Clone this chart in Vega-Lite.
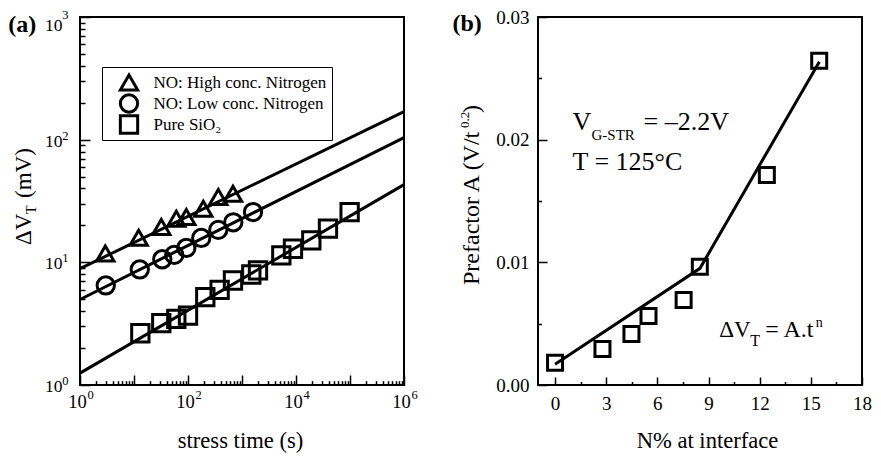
{
  "$schema": "https://vega.github.io/schema/vega-lite/v6.json",
  "background": "white",
  "padding": {"left": 7, "top": 7, "right": 5, "bottom": 5},
  "spacing": 32,
  "datasets": {
    "pointsA": [
      {"series": "NO: High conc. Nitrogen", "t": 2.94, "v": 11.8},
      {"series": "NO: High conc. Nitrogen", "t": 12.2, "v": 15.9},
      {"series": "NO: High conc. Nitrogen", "t": 32, "v": 19.4},
      {"series": "NO: High conc. Nitrogen", "t": 60.7, "v": 22.7},
      {"series": "NO: High conc. Nitrogen", "t": 93, "v": 23.4},
      {"series": "NO: High conc. Nitrogen", "t": 192, "v": 27.4},
      {"series": "NO: High conc. Nitrogen", "t": 364, "v": 34.1},
      {"series": "NO: High conc. Nitrogen", "t": 681, "v": 36.3},
      {"series": "NO: Low conc. Nitrogen", "t": 3.0, "v": 6.48},
      {"series": "NO: Low conc. Nitrogen", "t": 12.8, "v": 8.75},
      {"series": "NO: Low conc. Nitrogen", "t": 33.4, "v": 10.6},
      {"series": "NO: Low conc. Nitrogen", "t": 55.7, "v": 11.5},
      {"series": "NO: Low conc. Nitrogen", "t": 93, "v": 13.1},
      {"series": "NO: Low conc. Nitrogen", "t": 176, "v": 15.8},
      {"series": "NO: Low conc. Nitrogen", "t": 364, "v": 18.4},
      {"series": "NO: Low conc. Nitrogen", "t": 690, "v": 21.2},
      {"series": "NO: Low conc. Nitrogen", "t": 1600, "v": 25.7},
      {"series": "Pure SiO₂", "t": 13.1, "v": 2.64},
      {"series": "Pure SiO₂", "t": 32, "v": 3.19},
      {"series": "Pure SiO₂", "t": 60.7, "v": 3.46},
      {"series": "Pure SiO₂", "t": 100, "v": 3.68},
      {"series": "Pure SiO₂", "t": 209, "v": 5.2},
      {"series": "Pure SiO₂", "t": 385, "v": 5.97},
      {"series": "Pure SiO₂", "t": 681, "v": 7.11},
      {"series": "Pure SiO₂", "t": 1487, "v": 7.96},
      {"series": "Pure SiO₂", "t": 1978, "v": 8.59},
      {"series": "Pure SiO₂", "t": 5350, "v": 11.4},
      {"series": "Pure SiO₂", "t": 8790, "v": 12.9},
      {"series": "Pure SiO₂", "t": 19200, "v": 15.1},
      {"series": "Pure SiO₂", "t": 39100, "v": 18.8},
      {"series": "Pure SiO₂", "t": 98400, "v": 25.7}
    ],
    "fitA": [
      {"series": "NO: High conc. Nitrogen", "t": 1, "v": 8.87},
      {"series": "NO: High conc. Nitrogen", "t": 1000000, "v": 169},
      {"series": "NO: Low conc. Nitrogen", "t": 1, "v": 4.98},
      {"series": "NO: Low conc. Nitrogen", "t": 1000000, "v": 104},
      {"series": "Pure SiO₂", "t": 1, "v": 1.25},
      {"series": "Pure SiO₂", "t": 1000000, "v": 43}
    ],
    "annA": [
      {"key": "panel", "text": "(a)", "t": 0.047, "v": 755},
      {"key": "yt1", "text": "ΔV", "t": 0.1253, "v": 13.85},
      {"key": "yt2", "text": "T", "t": 0.1253, "v": 13.85},
      {"key": "yt3", "text": "(mV)", "t": 0.1253, "v": 13.85}
    ],
    "pointsB": [
      {"n": 0, "a": 0.00182},
      {"n": 2.78, "a": 0.00293},
      {"n": 4.48, "a": 0.00416},
      {"n": 5.48, "a": 0.00562},
      {"n": 7.54, "a": 0.00693},
      {"n": 8.49, "a": 0.00964},
      {"n": 12.42, "a": 0.01712},
      {"n": 15.49, "a": 0.02644}
    ],
    "fitB": [
      {"n": 0, "a": 0.00169},
      {"n": 8.5, "a": 0.00951},
      {"n": 15.5, "a": 0.02636}
    ],
    "annB": [
      {"key": "panel", "text": "(b)", "n": -6.02, "a": 0.02886},
      {"key": "yt1", "text": "Prefactor A (V/t", "n": -4.478, "a": 0.008152},
      {"key": "yt2", "text": "0.2", "n": -4.478, "a": 0.008152},
      {"key": "yt3", "text": ")", "n": -4.478, "a": 0.008152},
      {"key": "vg1", "text": "V", "n": 1.021, "a": 0.020788},
      {"key": "vg2", "text": "G-STR", "n": 1.021, "a": 0.020788},
      {"key": "vg3", "text": "= –2.2V", "n": 1.021, "a": 0.020788},
      {"key": "temp", "text": "T = 125°C", "n": 1.021, "a": 0.017527},
      {"key": "eq1", "text": "ΔV", "n": 9.624, "a": 0.003937},
      {"key": "eq2", "text": "T", "n": 9.624, "a": 0.003937},
      {"key": "eq3", "text": "= A.t", "n": 9.624, "a": 0.003937},
      {"key": "eq4", "text": "n", "n": 9.624, "a": 0.003937}
    ]
  },
  "hconcat": [
    {
      "width": 324,
      "height": 368,
      "resolve": {"axis": {"x": "independent", "y": "independent"}},
      "layer": [
        {
          "data": {"name": "pointsA"},
          "mark": {"type": "point", "filled": false, "strokeWidth": 3, "size": 300, "color": "black", "opacity": 1},
          "encoding": {
            "x": {
              "field": "t", "type": "quantitative",
              "scale": {"type": "log", "domain": [1, 1000000], "nice": false},
              "axis": {
                "orient": "bottom",
                "title": "stress time (s)",
                "titleFontSize": 22.6,
                "titleX": 160, "titleY": 62, "titleAlign": "center", "titleBaseline": "alphabetic",
                "values": [1, 100, 10000, 1000000],
                "labelExpr": "'10'",
                "ticks": false, "tickSize": 0,
                "labelPadding": 22, "labelBaseline": "alphabetic", "labelOffset": -3, "labelFontSize": 18.5
              }
            },
            "y": {
              "field": "v", "type": "quantitative",
              "scale": {"type": "log", "domain": [1, 1000], "nice": false},
              "axis": {
                "orient": "left",
                "title": null,
                "values": [1, 10, 100, 1000],
                "labelExpr": "'10'",
                "ticks": false, "tickSize": 0,
                "labelPadding": 18, "labelBaseline": "middle", "labelFontSize": 17.5,
                "labelOffset": {"condition": {"test": "datum.value > 999", "value": 8}, "value": 1.5}
              }
            },
            "shape": {
              "field": "series", "type": "nominal",
              "scale": {"domain": ["NO: High conc. Nitrogen", "NO: Low conc. Nitrogen", "Pure SiO₂"], "range": ["triangle-up", "circle", "square"]},
              "legend": {
                "orient": "none", "legendX": 22, "legendY": 50, "title": null,
                "strokeColor": "black", "fillColor": "white", "padding": 5,
                "labelFont": "Liberation Serif", "labelFontSize": 17, "labelColor": "black", "labelLimit": 400,
                "symbolStrokeWidth": 3, "symbolStrokeColor": "black", "symbolFillColor": "transparent", "symbolSize": 300,
                "symbolOffset": 11.5, "labelOffset": 14, "rowPadding": 0, "clipHeight": 21
              }
            }
          }
        },
        {
          "data": {"name": "fitA"},
          "mark": {"type": "line", "color": "black", "strokeWidth": 3},
          "encoding": {
            "x": {
              "field": "t", "type": "quantitative",
              "scale": {"type": "log", "domain": [1, 1000000], "nice": false},
              "axis": {
                "orient": "bottom", "title": null,
                "values": [1, 100, 10000, 1000000],
                "labelExpr": "format(round(log(datum.value)/LN10), 'd')",
                "ticks": false, "tickSize": 0,
                "labelPadding": 13, "labelBaseline": "alphabetic", "labelAlign": "left", "labelOffset": 7, "labelFontSize": 12.5
              }
            },
            "y": {
              "field": "v", "type": "quantitative",
              "scale": {"type": "log", "domain": [1, 1000], "nice": false},
              "axis": {
                "orient": "left", "title": null,
                "values": [1, 10, 100, 1000],
                "labelExpr": "format(round(log(datum.value)/LN10), 'd')",
                "ticks": false, "tickSize": 0,
                "labelPadding": 12, "labelBaseline": "middle", "labelAlign": "right", "labelFontSize": 12.5,
                "labelOffset": {"condition": {"test": "datum.value > 999", "value": -3}, "value": -4.5}
              }
            },
            "detail": {"field": "series"}
          }
        },
        {
          "data": {"name": "annA"},
          "transform": [{"filter": "datum.key == 'panel'"}],
          "mark": {"type": "text", "align": "left", "baseline": "alphabetic", "fontSize": 24, "fontWeight": "bold", "font": "Liberation Serif", "color": "black"},
          "encoding": {
            "x": {
              "field": "t", "type": "quantitative", "scale": {"type": "log", "domain": [1, 1000000], "nice": false},
              "axis": {"orient": "bottom", "title": null, "values": [1, 10, 100, 1000, 10000, 100000, 1000000], "labels": false, "tickSize": -10}
            },
            "y": {
              "field": "v", "type": "quantitative", "scale": {"type": "log", "domain": [1, 1000], "nice": false},
              "axis": {"orient": "left", "title": null, "values": [1, 10, 100, 1000], "labels": false, "tickSize": -10}
            },
            "text": {"field": "text"}
          }
        },
        {
          "data": {"name": "annA"},
          "transform": [{"filter": "datum.key == 'yt1'"}],
          "mark": {"type": "text", "align": "left", "baseline": "alphabetic", "angle": 270, "fontSize": 23, "font": "Liberation Serif", "color": "black"},
          "encoding": {
            "x": {
              "field": "t", "type": "quantitative", "scale": {"type": "log", "domain": [1, 1000000], "nice": false},
              "axis": {"orient": "bottom", "title": null, "values": [2,3,4,5,6,7,8,9,20,30,40,50,60,70,80,90,200,300,400,500,600,700,800,900,2000,3000,4000,5000,6000,7000,8000,9000,20000,30000,40000,50000,60000,70000,80000,90000,200000,300000,400000,500000,600000,700000,800000,900000], "labels": false, "tickSize": -4.3}
            },
            "y": {
              "field": "v", "type": "quantitative", "scale": {"type": "log", "domain": [1, 1000], "nice": false},
              "axis": {"orient": "left", "title": null, "values": [2,3,4,5,6,7,8,9,20,30,40,50,60,70,80,90,200,300,400,500,600,700,800,900], "labels": false, "tickSize": -5}
            },
            "text": {"field": "text"}
          }
        },
        {
          "data": {"name": "annA"},
          "transform": [{"filter": "datum.key == 'yt2'"}],
          "mark": {"type": "text", "align": "left", "baseline": "alphabetic", "angle": 270, "dx": 31, "dy": 5, "fontSize": 14, "font": "Liberation Serif", "color": "black"},
          "encoding": {
            "x": {"field": "t", "type": "quantitative", "scale": {"type": "log", "domain": [1, 1000000], "nice": false}, "axis": null},
            "y": {"field": "v", "type": "quantitative", "scale": {"type": "log", "domain": [1, 1000], "nice": false}, "axis": null},
            "text": {"field": "text"}
          }
        },
        {
          "data": {"name": "annA"},
          "transform": [{"filter": "datum.key == 'yt3'"}],
          "mark": {"type": "text", "align": "left", "baseline": "alphabetic", "angle": 270, "dx": 47, "fontSize": 23, "font": "Liberation Serif", "color": "black"},
          "encoding": {
            "x": {"field": "t", "type": "quantitative", "scale": {"type": "log", "domain": [1, 1000000], "nice": false}, "axis": null},
            "y": {"field": "v", "type": "quantitative", "scale": {"type": "log", "domain": [1, 1000], "nice": false}, "axis": null},
            "text": {"field": "text"}
          }
        }
      ]
    },
    {
      "width": 324,
      "height": 368,
      "resolve": {"axis": {"x": "independent", "y": "independent"}},
      "layer": [
        {
          "data": {"name": "pointsB"},
          "mark": {"type": "point", "shape": "square", "filled": false, "strokeWidth": 3, "size": 225, "color": "black", "opacity": 1},
          "encoding": {
            "x": {
              "field": "n", "type": "quantitative",
              "scale": {"domain": [-1, 18], "nice": false, "zero": false},
              "axis": {
                "orient": "bottom",
                "title": "N% at interface",
                "titleFontSize": 22.6,
                "titleX": 169, "titleY": 62, "titleAlign": "center", "titleBaseline": "alphabetic",
                "values": [0, 3, 6, 9, 12, 15, 18],
                "format": "d",
                "ticks": false, "tickSize": 0,
                "labelPadding": 24, "labelBaseline": "alphabetic", "labelFontSize": 19
              }
            },
            "y": {
              "field": "a", "type": "quantitative",
              "scale": {"domain": [0, 0.03], "nice": false},
              "axis": {
                "orient": "left",
                "title": null,
                "values": [0, 0.01, 0.02, 0.03],
                "format": ".2f",
                "ticks": false, "tickSize": 0,
                "labelPadding": 9, "labelBaseline": "middle", "labelFontSize": 19
              }
            }
          }
        },
        {
          "data": {"name": "fitB"},
          "mark": {"type": "line", "color": "black", "strokeWidth": 3},
          "encoding": {
            "x": {
              "field": "n", "type": "quantitative", "scale": {"domain": [-1, 18], "nice": false, "zero": false},
              "axis": {"orient": "bottom", "title": null, "values": [0, 3, 6, 9, 12, 15, 18], "labels": false, "tickSize": -8}
            },
            "y": {
              "field": "a", "type": "quantitative", "scale": {"domain": [0, 0.03], "nice": false},
              "axis": {"orient": "left", "title": null, "values": [0, 0.01, 0.02, 0.03], "labels": false, "tickSize": -9}
            }
          }
        },
        {
          "data": {"name": "annB"},
          "transform": [{"filter": "datum.key == 'panel'"}],
          "mark": {"type": "text", "align": "left", "baseline": "alphabetic", "fontSize": 24, "fontWeight": "bold", "font": "Liberation Serif", "color": "black"},
          "encoding": {
            "x": {
              "field": "n", "type": "quantitative", "scale": {"domain": [-1, 18], "nice": false, "zero": false},
              "axis": {"orient": "bottom", "title": null, "values": [1.5, 4.5, 7.5, 10.5, 13.5, 16.5], "labels": false, "tickSize": -3.5}
            },
            "y": {
              "field": "a", "type": "quantitative", "scale": {"domain": [0, 0.03], "nice": false},
              "axis": {"orient": "left", "title": null, "values": [0.005, 0.015, 0.025], "labels": false, "tickSize": -3.5}
            },
            "text": {"field": "text"}
          }
        },
        {
          "data": {"name": "annB"},
          "transform": [{"filter": "datum.key == 'yt1'"}],
          "mark": {"type": "text", "align": "left", "baseline": "alphabetic", "angle": 270, "fontSize": 24, "font": "Liberation Serif", "color": "black"},
          "encoding": {
            "x": {"field": "n", "type": "quantitative", "scale": {"domain": [-1, 18], "nice": false, "zero": false}, "axis": null},
            "y": {"field": "a", "type": "quantitative", "scale": {"domain": [0, 0.03], "nice": false}, "axis": null},
            "text": {"field": "text"}
          }
        },
        {
          "data": {"name": "annB"},
          "transform": [{"filter": "datum.key == 'yt2'"}],
          "mark": {"type": "text", "align": "left", "baseline": "alphabetic", "angle": 270, "dx": 157, "dy": -10, "fontSize": 13, "font": "Liberation Serif", "color": "black"},
          "encoding": {
            "x": {"field": "n", "type": "quantitative", "scale": {"domain": [-1, 18], "nice": false, "zero": false}, "axis": null},
            "y": {"field": "a", "type": "quantitative", "scale": {"domain": [0, 0.03], "nice": false}, "axis": null},
            "text": {"field": "text"}
          }
        },
        {
          "data": {"name": "annB"},
          "transform": [{"filter": "datum.key == 'yt3'"}],
          "mark": {"type": "text", "align": "left", "baseline": "alphabetic", "angle": 270, "dx": 172, "fontSize": 24, "font": "Liberation Serif", "color": "black"},
          "encoding": {
            "x": {"field": "n", "type": "quantitative", "scale": {"domain": [-1, 18], "nice": false, "zero": false}, "axis": null},
            "y": {"field": "a", "type": "quantitative", "scale": {"domain": [0, 0.03], "nice": false}, "axis": null},
            "text": {"field": "text"}
          }
        },
        {
          "data": {"name": "annB"},
          "transform": [{"filter": "datum.key == 'vg1' || datum.key == 'temp'"}],
          "mark": {"type": "text", "align": "left", "baseline": "alphabetic", "fontSize": 26, "font": "Liberation Serif", "color": "black"},
          "encoding": {
            "x": {"field": "n", "type": "quantitative", "scale": {"domain": [-1, 18], "nice": false, "zero": false}, "axis": null},
            "y": {"field": "a", "type": "quantitative", "scale": {"domain": [0, 0.03], "nice": false}, "axis": null},
            "text": {"field": "text"}
          }
        },
        {
          "data": {"name": "annB"},
          "transform": [{"filter": "datum.key == 'vg2'"}],
          "mark": {"type": "text", "align": "left", "baseline": "alphabetic", "dx": 19, "dy": 10, "fontSize": 15, "font": "Liberation Serif", "color": "black"},
          "encoding": {
            "x": {"field": "n", "type": "quantitative", "scale": {"domain": [-1, 18], "nice": false, "zero": false}, "axis": null},
            "y": {"field": "a", "type": "quantitative", "scale": {"domain": [0, 0.03], "nice": false}, "axis": null},
            "text": {"field": "text"}
          }
        },
        {
          "data": {"name": "annB"},
          "transform": [{"filter": "datum.key == 'vg3'"}],
          "mark": {"type": "text", "align": "left", "baseline": "alphabetic", "dx": 71, "fontSize": 26, "font": "Liberation Serif", "color": "black"},
          "encoding": {
            "x": {"field": "n", "type": "quantitative", "scale": {"domain": [-1, 18], "nice": false, "zero": false}, "axis": null},
            "y": {"field": "a", "type": "quantitative", "scale": {"domain": [0, 0.03], "nice": false}, "axis": null},
            "text": {"field": "text"}
          }
        },
        {
          "data": {"name": "annB"},
          "transform": [{"filter": "datum.key == 'eq1'"}],
          "mark": {"type": "text", "align": "left", "baseline": "alphabetic", "fontSize": 23, "font": "Liberation Serif", "color": "black"},
          "encoding": {
            "x": {"field": "n", "type": "quantitative", "scale": {"domain": [-1, 18], "nice": false, "zero": false}, "axis": null},
            "y": {"field": "a", "type": "quantitative", "scale": {"domain": [0, 0.03], "nice": false}, "axis": null},
            "text": {"field": "text"}
          }
        },
        {
          "data": {"name": "annB"},
          "transform": [{"filter": "datum.key == 'eq2'"}],
          "mark": {"type": "text", "align": "left", "baseline": "alphabetic", "dx": 31, "dy": 9, "fontSize": 16, "font": "Liberation Serif", "color": "black"},
          "encoding": {
            "x": {"field": "n", "type": "quantitative", "scale": {"domain": [-1, 18], "nice": false, "zero": false}, "axis": null},
            "y": {"field": "a", "type": "quantitative", "scale": {"domain": [0, 0.03], "nice": false}, "axis": null},
            "text": {"field": "text"}
          }
        },
        {
          "data": {"name": "annB"},
          "transform": [{"filter": "datum.key == 'eq3'"}],
          "mark": {"type": "text", "align": "left", "baseline": "alphabetic", "dx": 46, "fontSize": 24, "font": "Liberation Serif", "color": "black"},
          "encoding": {
            "x": {"field": "n", "type": "quantitative", "scale": {"domain": [-1, 18], "nice": false, "zero": false}, "axis": null},
            "y": {"field": "a", "type": "quantitative", "scale": {"domain": [0, 0.03], "nice": false}, "axis": null},
            "text": {"field": "text"}
          }
        },
        {
          "data": {"name": "annB"},
          "transform": [{"filter": "datum.key == 'eq4'"}],
          "mark": {"type": "text", "align": "left", "baseline": "alphabetic", "dx": 96.5, "dy": -10, "fontSize": 14, "font": "Liberation Serif", "color": "black"},
          "encoding": {
            "x": {"field": "n", "type": "quantitative", "scale": {"domain": [-1, 18], "nice": false, "zero": false}, "axis": null},
            "y": {"field": "a", "type": "quantitative", "scale": {"domain": [0, 0.03], "nice": false}, "axis": null},
            "text": {"field": "text"}
          }
        }
      ]
    }
  ],
  "config": {
    "font": "Liberation Serif",
    "view": {"stroke": "black", "strokeWidth": 2},
    "axis": {
      "grid": false,
      "domain": false,
      "tickColor": "black",
      "tickWidth": 1.5,
      "labelColor": "black",
      "titleColor": "black",
      "labelFont": "Liberation Serif",
      "titleFont": "Liberation Serif",
      "labelFontSize": 19,
      "titleFontSize": 22.6,
      "titleFontWeight": "normal",
      "labelOverlap": false,
      "labelFlush": false
    }
  }
}
